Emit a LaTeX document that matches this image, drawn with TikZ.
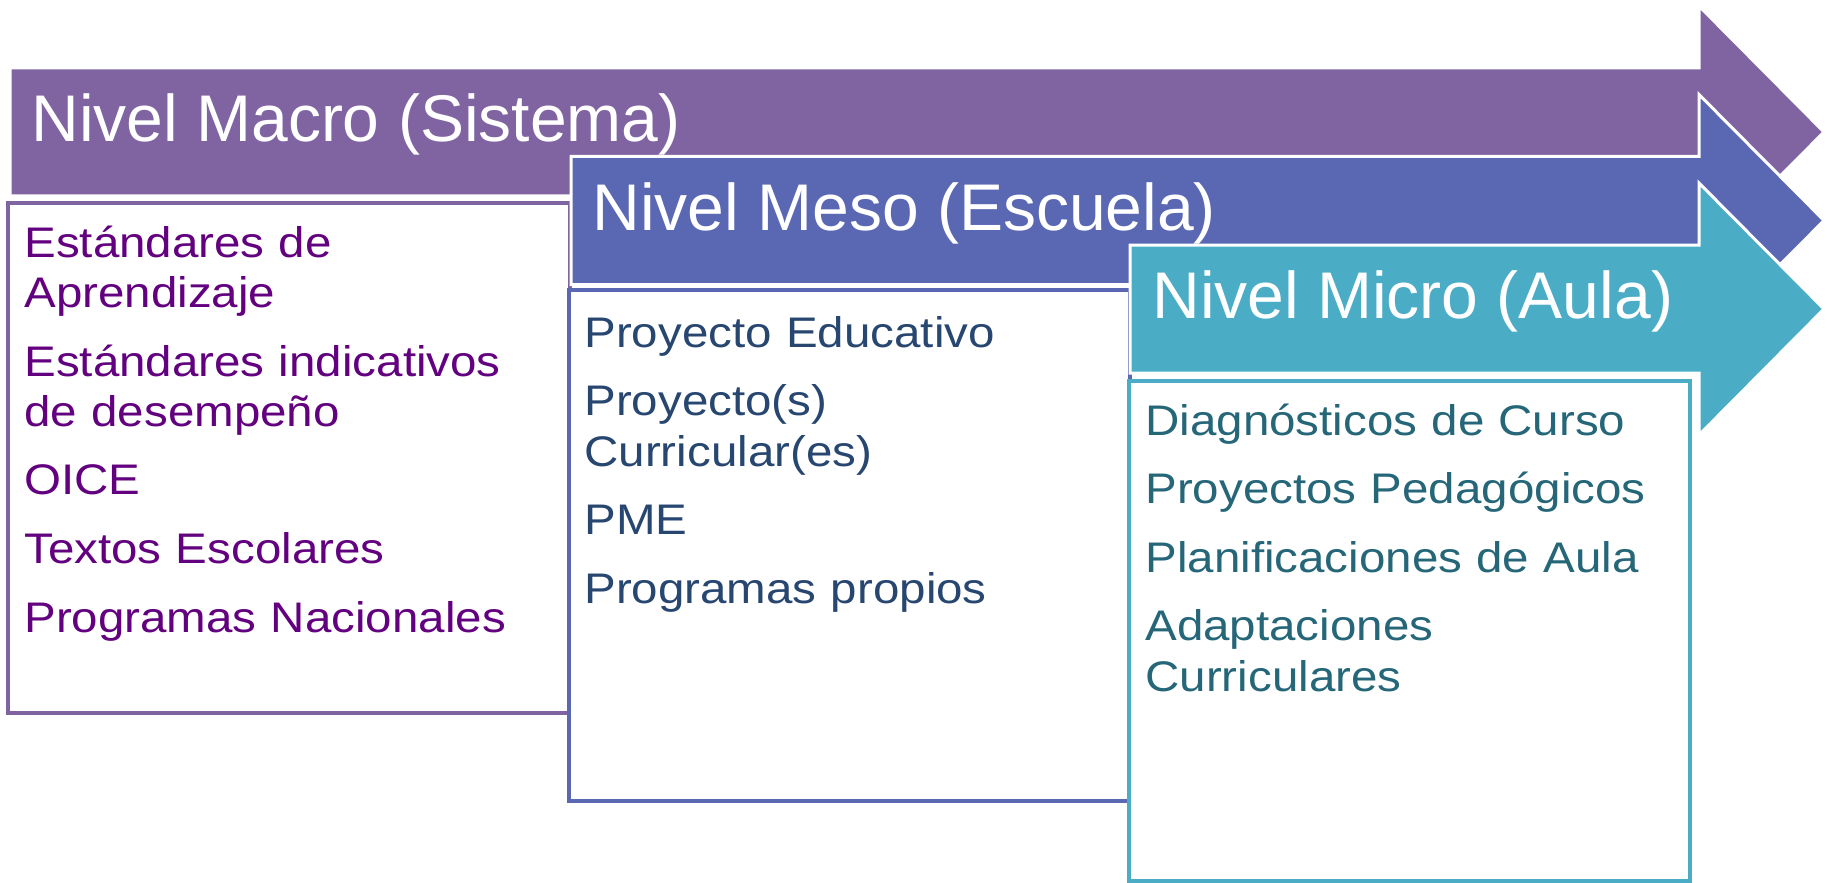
\documentclass[tikz,border=0pt]{standalone}
\usepackage{fontspec}
\setmainfont{Liberation Sans}
\newfontfamily\listaFont[FakeStretch=1.11]{Liberation Sans}
\usepackage{xcolor}
\definecolor{macroFarbe}{HTML}{8064A2}
\definecolor{mesoFarbe}{HTML}{5A68B4}
\definecolor{microFarbe}{HTML}{4BACC6}
\definecolor{macroText}{HTML}{63007F}
\definecolor{mesoText}{HTML}{274670}
\definecolor{microText}{HTML}{256678}
\tikzset{
    flecha/.style = {draw = white, line width = 1.5pt, line join = miter},
    caja/.style = {line width = 2pt, fill = white},
    titulo/.style = {anchor = base west, inner sep = 0pt, text = white, font = \fontsize{33pt}{40pt}\selectfont},
    lista/.style = {anchor = base west, inner sep = 0pt, align = left, text width = 275pt, font = \listaFont\fontsize{21.4pt}{25.25pt}\selectfont}
}
\begin{document}
\begin{tikzpicture}[x = 0.5pt, y = -0.5pt]
    % Größe der Bildumgebung
        \useasboundingbox (0, 0) rectangle (1827, 883);

    % Nivel Macro
        \fill[macroFarbe, flecha] (10, 68) -- (1699, 68) -- (1699, 6) -- (1824, 132) -- (1699, 258) -- (1699, 196) -- (10, 196) -- cycle;
        \draw[macroFarbe, caja] (8, 203) rectangle (570, 713);
        \node[titulo] (macro) at (31, 141) {Nivel Macro (Sistema)};
        \node[lista, text = macroText] (macroLista) at (24, 257) {Estándares de\\ Aprendizaje\\[9pt] Estándares indicativos\\ de desempeño\\[9pt] OICE\\[9pt] Textos Escolares\\[9pt] Programas Nacionales};

    % Nivel Meso
        \fill[mesoFarbe, flecha] (571, 156.5) -- (1699, 156.5) -- (1699, 94.5) -- (1824, 220.5) -- (1699, 346.5) -- (1699, 284.5) -- (571, 284.5) -- cycle;
        \draw[mesoFarbe, caja] (569, 290) rectangle (1130, 801);
        \node[titulo] (meso) at (592, 230) {Nivel Meso (Escuela)};
        \node[lista, text = mesoText] (mesoLista) at (584, 347) {Proyecto Educativo\\[9pt] Proyecto(s)\\ Curricular(es)\\[9pt] PME\\[9pt] Programas propios};

    % Nivel Micro
        \fill[microFarbe, flecha] (1130, 245) -- (1699, 245) -- (1699, 183) -- (1824, 309) -- (1699, 435) -- (1699, 373) -- (1130, 373) -- cycle;
        \draw[microFarbe, caja] (1129, 381) rectangle (1690, 881);
        \node[titulo] (micro) at (1152, 318) {Nivel Micro (Aula)};
        \node[lista, text = microText] (microLista) at (1145, 435) {Diagnósticos de Curso\\[9pt] Proyectos Pedagógicos\\[9pt] Planificaciones de Aula\\[9pt] Adaptaciones\\ Curriculares};
\end{tikzpicture}
\end{document}
